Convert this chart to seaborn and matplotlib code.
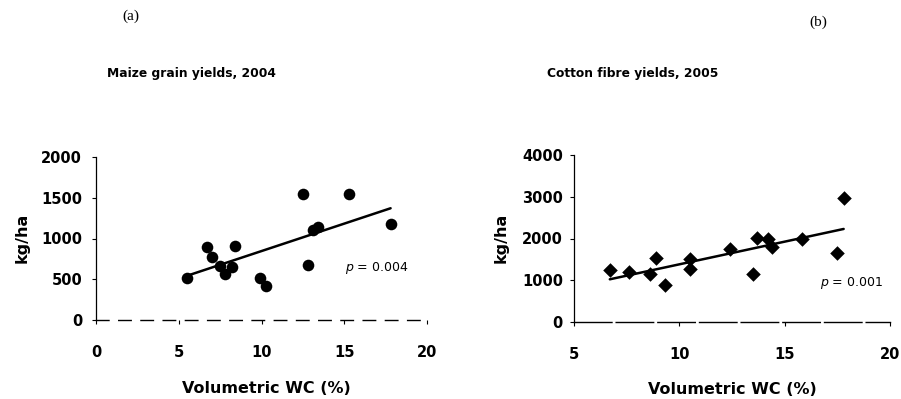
import matplotlib
matplotlib.use("Agg")
import matplotlib.pyplot as plt
import seaborn as sns
import pandas as pd

sns.set_theme(style="white")
plt.rcParams['font.family'] = ['DejaVu Sans']
plt.rcParams['text.color'] = 'black'
plt.rcParams['axes.labelcolor'] = 'black'
plt.rcParams['xtick.color'] = 'black'
plt.rcParams['ytick.color'] = 'black'

# Maize grain yields, 2004
maize_wc = [5.5, 6.7, 7.0, 7.5, 7.8, 8.2, 8.4, 9.9, 10.3, 12.5, 12.8, 13.1, 13.4, 15.3, 17.8]
maize_yield = [515, 900, 770, 660, 560, 650, 910, 520, 420, 1550, 670, 1110, 1140, 1550, 1180]

# Cotton fibre yields, 2005
cotton_wc = [6.7, 7.6, 8.6, 8.9, 9.3, 10.5, 10.5, 12.4, 13.5, 13.7, 14.2, 14.4, 15.8, 17.5, 17.8]
cotton_yield = [1250, 1200, 1150, 1540, 890, 1510, 1280, 1750, 1140, 2020, 1990, 1800, 2000, 1650, 2960]

maize_xticks = [0, 5, 10, 15, 20]
maize_yticks = [0, 500, 1000, 1500, 2000]
cotton_xticks = [5, 10, 15, 20]
cotton_yticks = [0, 1000, 2000, 3000, 4000]

titles = ["Maize grain yields, 2004", "Cotton fibre yields, 2005"]
p_texts = ["0.004", "0.001"]
panel_labels = ["(a)", "(b)"]

W, H = 901, 399
fig = plt.figure(figsize=(W / 100, H / 100), dpi=100)

def px_axes(x0, x1, y0, y1):
    return fig.add_axes([x0 / W, 1 - y0 / H, (x1 - x0) / W, (y0 - y1) / H])

ax1 = px_axes(96, 427, 320, 157)
ax2 = px_axes(574, 890, 322, 155)

df1 = pd.DataFrame({"wc": maize_wc, "y": maize_yield})
df2 = pd.DataFrame({"wc": cotton_wc, "y": cotton_yield})

sns.regplot(data=df1, x="wc", y="y", ax=ax1, ci=None, color="black",
            marker="o", scatter_kws={"s": 70, "linewidths": 0, "alpha": 1},
            line_kws={"lw": 1.8})
sns.regplot(data=df2, x="wc", y="y", ax=ax2, ci=None, color="black",
            marker="D", scatter_kws={"s": 55, "linewidths": 0, "alpha": 1},
            line_kws={"lw": 1.8})

setup = [
    (ax1, maize_xticks, maize_yticks, (0, (9, 7)), (-0.224, 0.503), (0.514, -0.374)),
    (ax2, cotton_xticks, cotton_yticks, (0, (27, 3)), (-0.231, 0.503), (0.5, -0.359)),
]
for ax, xt, yt, dash, ylc, xlc in setup:
    ax.set_xlim(xt[0], xt[-1])
    ax.set_ylim(yt[0], yt[-1])
    ax.set_xticks(xt)
    ax.set_yticks(yt)
    ax.set_xlabel("Volumetric WC (%)", fontsize=11.5, fontweight="bold", color="black")
    ax.set_ylabel("kg/ha", fontsize=11.5, fontweight="bold", color="black")
    ax.xaxis.set_label_coords(*xlc)
    ax.xaxis.label.set_verticalalignment("top")
    ax.yaxis.set_label_coords(*ylc)
    ax.yaxis.label.set_verticalalignment("center")
    ax.tick_params(axis="both", which="major", direction="out", length=3,
                   width=0.8, color="black", labelcolor="black", labelsize=10.5,
                   left=True, bottom=True)
    ax.tick_params(axis="x", pad=15)
    ax.tick_params(axis="y", pad=7)
    for lab in ax.get_xticklabels() + ax.get_yticklabels():
        lab.set_fontweight("bold")
    for s in ["top", "right"]:
        ax.spines[s].set_visible(False)
    ax.spines["left"].set_color("black")
    ax.spines["left"].set_linewidth(0.9)
    ax.spines["bottom"].set_color("black")
    ax.spines["bottom"].set_linewidth(1.0)
    ax.spines["bottom"].set_linestyle(dash)
    ax.patch.set_alpha(0)

ax2.tick_params(axis="y", pad=5)

ax1.text(15.06, 638, "$p$ = " + p_texts[0], fontsize=9, ha="left", va="center",
         color="black")
ax2.text(16.67, 934, "$p$ = " + p_texts[1], fontsize=9, ha="left", va="center",
         color="black")

fig.text(191 / W, 1 - 73 / H, titles[0], fontsize=8.8, fontweight="bold",
         ha="center", va="center", color="black")
fig.text(633 / W, 1 - 73 / H, titles[1], fontsize=8.8, fontweight="bold",
         ha="center", va="center", color="black")

fig.text(131 / W, 1 - 16 / H, panel_labels[0], fontsize=11, family="Liberation Serif",
         ha="center", va="center", color="black")
fig.text(818 / W, 1 - 22 / H, panel_labels[1], fontsize=11, family="Liberation Serif",
         ha="center", va="center", color="black")

fig.savefig("out.png", dpi=100, facecolor="white")
